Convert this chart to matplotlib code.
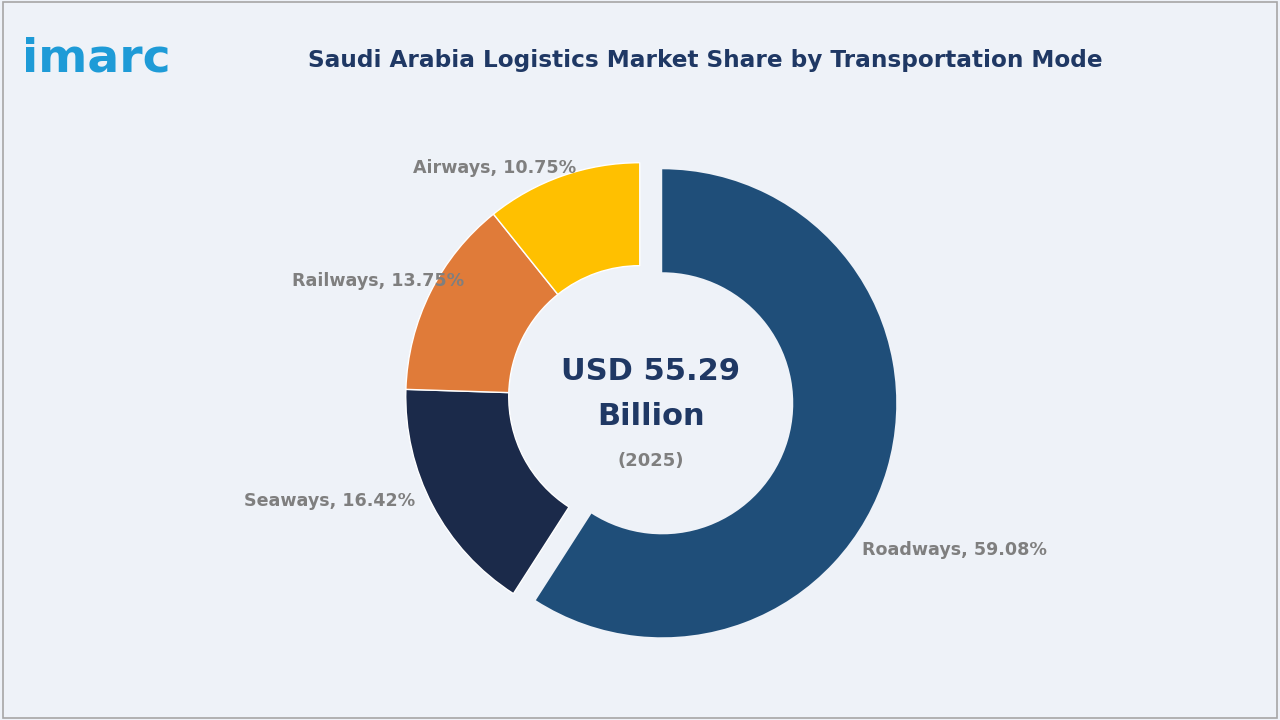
import numpy as np
import matplotlib.pyplot as plt
from matplotlib.patches import Rectangle

modes = ["Roadways", "Seaways", "Railways", "Airways"]
shares = [59.08, 16.42, 13.75, 10.75]
colors = ["#1f4e79", "#1b2a4a", "#e07b39", "#ffc000"]
# label anchor points (data units, radius 1 = outer edge)
label_xy = [(0.90, -0.64), (-1.01, -0.43), (-0.80, 0.51), (-0.32, 0.99)]
label_ha = ["left", "right", "right", "right"]

bg = "#eef2f8"
fig = plt.figure(figsize=(12.8, 7.2), dpi=100, facecolor=bg)
fig.patches.append(Rectangle((0.002, 0.003), 0.996, 0.994, transform=fig.transFigure,
                             fill=False, edgecolor="#a6a6a6", linewidth=1.2))

R_PX = 234
half = 1.3
w = 2 * half * R_PX / 1280
h = 2 * half * R_PX / 720
ax = fig.add_axes([651 / 1280 - w / 2, 1 - 400 / 720 - h / 2, w, h])
ax.set_facecolor(bg)

# Roadways pushed out one way, the rest of the ring the other way
total = sum(shares)
mid = np.deg2rad(90 - shares[0] / total * 360 / 2)
d = 0.05
off = (d * np.cos(mid), d * np.sin(mid))
ring_w = 0.44
ax.pie([shares[0], total - shares[0]], colors=[colors[0], "none"], startangle=90,
       counterclock=False, radius=1, center=off,
       wedgeprops=dict(width=ring_w, linewidth=0))
wedges, _ = ax.pie(shares, colors=["none"] + colors[1:], startangle=90,
                   counterclock=False, radius=1, center=(-off[0], -off[1]),
                   wedgeprops=dict(width=ring_w, edgecolor="white", linewidth=1))
wedges[0].set_edgecolor("none")
ax.set_xlim(-half, half)
ax.set_ylim(-half, half)
ax.set_aspect("equal")
ax.axis("off")

for m, s, (x, y), ha in zip(modes, shares, label_xy, label_ha):
    ax.text(x, y, f"{m}, {s:.2f}%", ha=ha, va="center", fontsize=12.6,
            color="#7f7f7f", fontweight="bold")

ax.text(0, 0.12, "USD 55.29", ha="center", va="center", fontsize=22,
        fontweight="bold", color="#1f3864")
ax.text(0, -0.07, "Billion", ha="center", va="center", fontsize=22,
        fontweight="bold", color="#1f3864")
ax.text(0, -0.26, "(2025)", ha="center", va="center", fontsize=13,
        fontweight="bold", color="#7f7f7f")

fig.text(0.551, 0.916, "Saudi Arabia Logistics Market Share by Transportation Mode",
         ha="center", va="center", fontsize=16.7, fontweight="bold", color="#1f3864")
fig.text(0.017, 0.918, "imarc", ha="left", va="center", fontsize=34,
         color="#1e9bd7", fontweight="bold")

fig.savefig("out.png", dpi=100, facecolor=bg)
